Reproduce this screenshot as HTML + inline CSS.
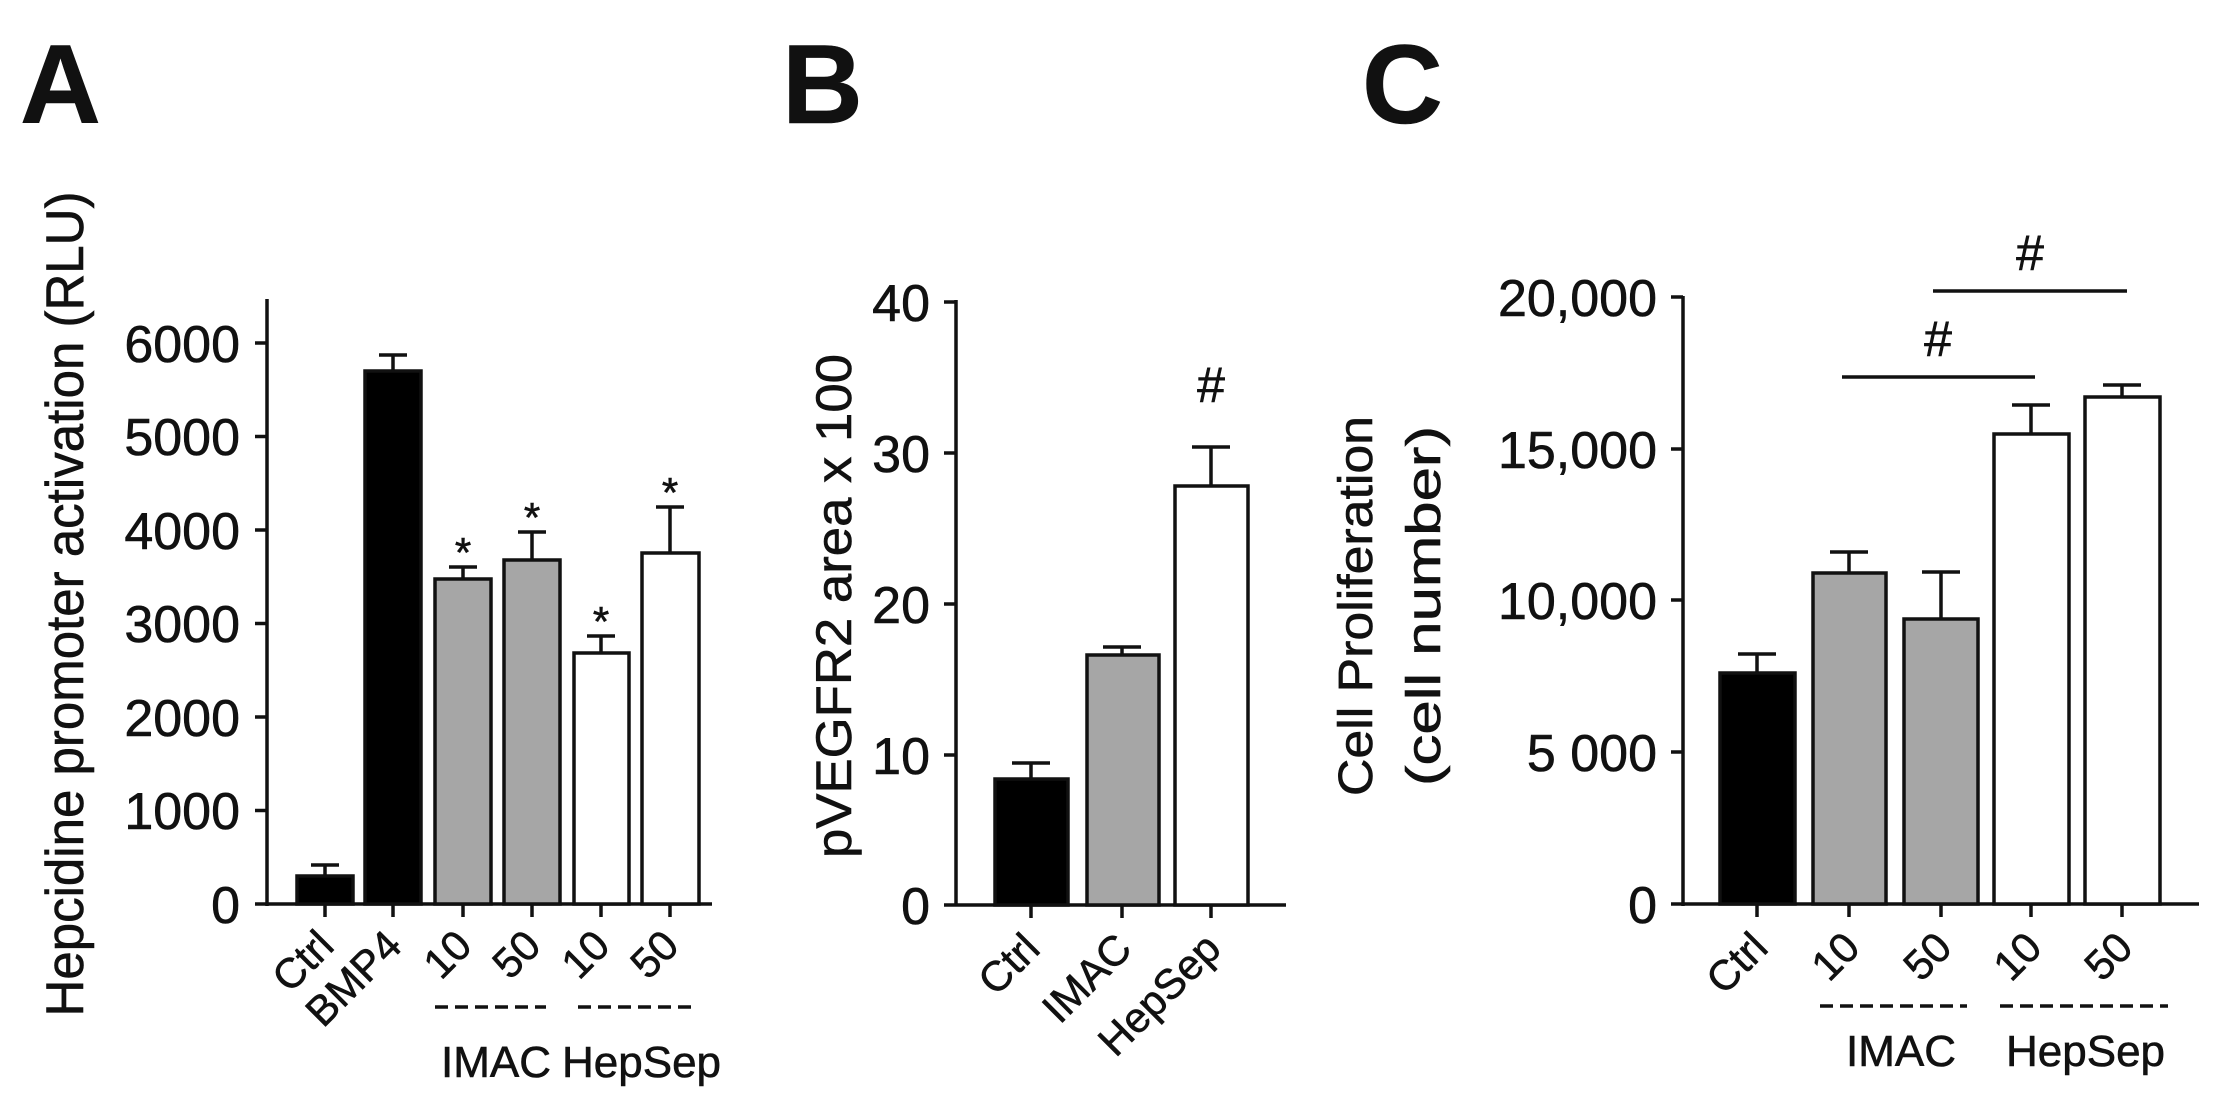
<!DOCTYPE html>
<html><head><meta charset="utf-8"><style>
html,body{margin:0;padding:0;background:#fff;}
svg{display:block;}
text{font-family:"Liberation Sans",Arial,sans-serif;fill:#111;stroke:#111;stroke-width:0.6;}
</style></head><body>
<svg width="2226" height="1113" viewBox="0 0 2226 1113" xmlns="http://www.w3.org/2000/svg">
<g stroke="#111" stroke-width="3.5" fill="none">
<line x1="267" y1="299" x2="267" y2="906"/>
<line x1="255" y1="904" x2="712" y2="904"/>
<line x1="255" y1="343" x2="267" y2="343"/>
<line x1="255" y1="436.5" x2="267" y2="436.5"/>
<line x1="255" y1="530" x2="267" y2="530"/>
<line x1="255" y1="623.5" x2="267" y2="623.5"/>
<line x1="255" y1="717" x2="267" y2="717"/>
<line x1="255" y1="810.5" x2="267" y2="810.5"/>
<line x1="325" y1="904" x2="325" y2="917"/>
<line x1="393" y1="904" x2="393" y2="917"/>
<line x1="463" y1="904" x2="463" y2="917"/>
<line x1="532" y1="904" x2="532" y2="917"/>
<line x1="601" y1="904" x2="601" y2="917"/>
<line x1="670" y1="904" x2="670" y2="917"/>
<line x1="956" y1="300" x2="956" y2="906"/>
<line x1="944" y1="905" x2="1286" y2="905"/>
<line x1="944" y1="302" x2="956" y2="302"/>
<line x1="944" y1="453" x2="956" y2="453"/>
<line x1="944" y1="604" x2="956" y2="604"/>
<line x1="944" y1="755" x2="956" y2="755"/>
<line x1="1031" y1="905" x2="1031" y2="918"/>
<line x1="1122" y1="905" x2="1122" y2="918"/>
<line x1="1211" y1="905" x2="1211" y2="918"/>
<line x1="1683" y1="296" x2="1683" y2="906"/>
<line x1="1671" y1="904" x2="2199" y2="904"/>
<line x1="1671" y1="297" x2="1683" y2="297"/>
<line x1="1671" y1="449" x2="1683" y2="449"/>
<line x1="1671" y1="600" x2="1683" y2="600"/>
<line x1="1671" y1="752" x2="1683" y2="752"/>
<line x1="1757" y1="904" x2="1757" y2="917"/>
<line x1="1849" y1="904" x2="1849" y2="917"/>
<line x1="1941" y1="904" x2="1941" y2="917"/>
<line x1="2031" y1="904" x2="2031" y2="917"/>
<line x1="2122" y1="904" x2="2122" y2="917"/>
</g>
<g stroke="#111" stroke-width="3.5">
<rect x="297" y="876" width="56" height="28" fill="#000"/>
<rect x="365" y="371" width="56" height="533" fill="#000"/>
<rect x="435" y="579" width="56" height="325" fill="#a6a6a6"/>
<rect x="504" y="560" width="56" height="344" fill="#a6a6a6"/>
<rect x="574" y="653" width="55" height="251" fill="#fff"/>
<rect x="642" y="553" width="57" height="351" fill="#fff"/>
<rect x="995" y="779" width="73" height="126" fill="#000"/>
<rect x="1087" y="655" width="72" height="250" fill="#a6a6a6"/>
<rect x="1175" y="486" width="73" height="419" fill="#fff"/>
<rect x="1720" y="673" width="75" height="231" fill="#000"/>
<rect x="1813" y="573" width="73" height="331" fill="#a6a6a6"/>
<rect x="1904" y="619" width="74" height="285" fill="#a6a6a6"/>
<rect x="1994" y="434" width="75" height="470" fill="#fff"/>
<rect x="2085" y="397" width="75" height="507" fill="#fff"/>
</g>
<g stroke="#111" stroke-width="3.5" fill="none">
<path d="M325 876V865M311 865H339"/>
<path d="M393 371V355M379 355H407"/>
<path d="M463 579V567M449 567H477"/>
<path d="M532 560V532M518 532H546"/>
<path d="M601 653V636M587 636H615"/>
<path d="M670 553V507M656 507H684"/>
<path d="M1031 779V763M1012 763H1050"/>
<path d="M1122 655V647M1103 647H1141"/>
<path d="M1211 486V447M1192 447H1230"/>
<path d="M1757 673V654M1738 654H1776"/>
<path d="M1849 573V552M1830 552H1868"/>
<path d="M1941 619V572M1922 572H1960"/>
<path d="M2031 434V405M2012 405H2050"/>
<path d="M2122 397V385M2103 385H2141"/>
<line x1="1842" y1="377" x2="2035" y2="377"/>
<line x1="1933" y1="291" x2="2127" y2="291"/>
<line x1="435" y1="1007" x2="546" y2="1007" stroke-dasharray="13,7"/>
<line x1="578" y1="1007" x2="691" y2="1007" stroke-dasharray="13,7"/>
<line x1="1820" y1="1006" x2="1967" y2="1006" stroke-dasharray="13,7"/>
<line x1="2000" y1="1006" x2="2168" y2="1006" stroke-dasharray="13,7"/>
</g>
<text x="20" y="123" font-size="112" font-weight="bold">A</text>
<text x="782" y="123" font-size="112" font-weight="bold">B</text>
<text x="1362" y="123" font-size="112" font-weight="bold">C</text>
<g font-size="52" text-anchor="end">
<text x="240" y="362">6000</text>
<text x="240" y="455">5000</text>
<text x="240" y="549">4000</text>
<text x="240" y="642">3000</text>
<text x="240" y="736">2000</text>
<text x="240" y="829">1000</text>
<text x="240" y="923">0</text>
<text x="930" y="321">40</text>
<text x="930" y="472">30</text>
<text x="930" y="623">20</text>
<text x="930" y="774">10</text>
<text x="930" y="924">0</text>
<text x="1657" y="316">20,000</text>
<text x="1657" y="468">15,000</text>
<text x="1657" y="619">10,000</text>
<text x="1657" y="771">5 000</text>
<text x="1657" y="923">0</text>
</g>
<text transform="translate(83,604) rotate(-90)" font-size="53" text-anchor="middle" textLength="825" lengthAdjust="spacingAndGlyphs">Hepcidine promoter activation (RLU)</text>
<text transform="translate(851,606) rotate(-90)" font-size="50" text-anchor="middle" textLength="504" lengthAdjust="spacingAndGlyphs">pVEGFR2 area  x 100</text>
<text transform="translate(1372,606) rotate(-90)" font-size="48" text-anchor="middle" textLength="380" lengthAdjust="spacingAndGlyphs">Cell Proliferation</text>
<text transform="translate(1440,606) rotate(-90)" font-size="48" text-anchor="middle" textLength="360" lengthAdjust="spacingAndGlyphs">(cell number)</text>
<g font-size="42" text-anchor="end">
<text transform="translate(336,948) rotate(-45)">Ctrl</text>
<text transform="translate(404,948) rotate(-45)">BMP4</text>
<text transform="translate(474,948) rotate(-45)">10</text>
<text transform="translate(543,948) rotate(-45)">50</text>
<text transform="translate(612,948) rotate(-45)">10</text>
<text transform="translate(681,948) rotate(-45)">50</text>
<text transform="translate(1042,951) rotate(-45)">Ctrl</text>
<text transform="translate(1134,951) rotate(-45)">IMAC</text>
<text transform="translate(1223,951) rotate(-45)">HepSep</text>
<text transform="translate(1770,950) rotate(-45)">Ctrl</text>
<text transform="translate(1862,950) rotate(-45)">10</text>
<text transform="translate(1954,950) rotate(-45)">50</text>
<text transform="translate(2044,950) rotate(-45)">10</text>
<text transform="translate(2135,950) rotate(-45)">50</text>
</g>
<g font-size="44">
<text x="441" y="1077">IMAC</text>
<text x="562" y="1077">HepSep</text>
<text x="1846" y="1066">IMAC</text>
<text x="2006" y="1066">HepSep</text>
</g>
<g font-size="42" text-anchor="middle">
<text x="463" y="567">*</text>
<text x="532" y="532">*</text>
<text x="601" y="636">*</text>
<text x="670" y="507">*</text>
</g>
<g font-size="50" text-anchor="middle">
<text x="1211" y="402">#</text>
<text x="1938" y="356">#</text>
<text x="2030" y="270">#</text>
</g>
</svg>
</body></html>
